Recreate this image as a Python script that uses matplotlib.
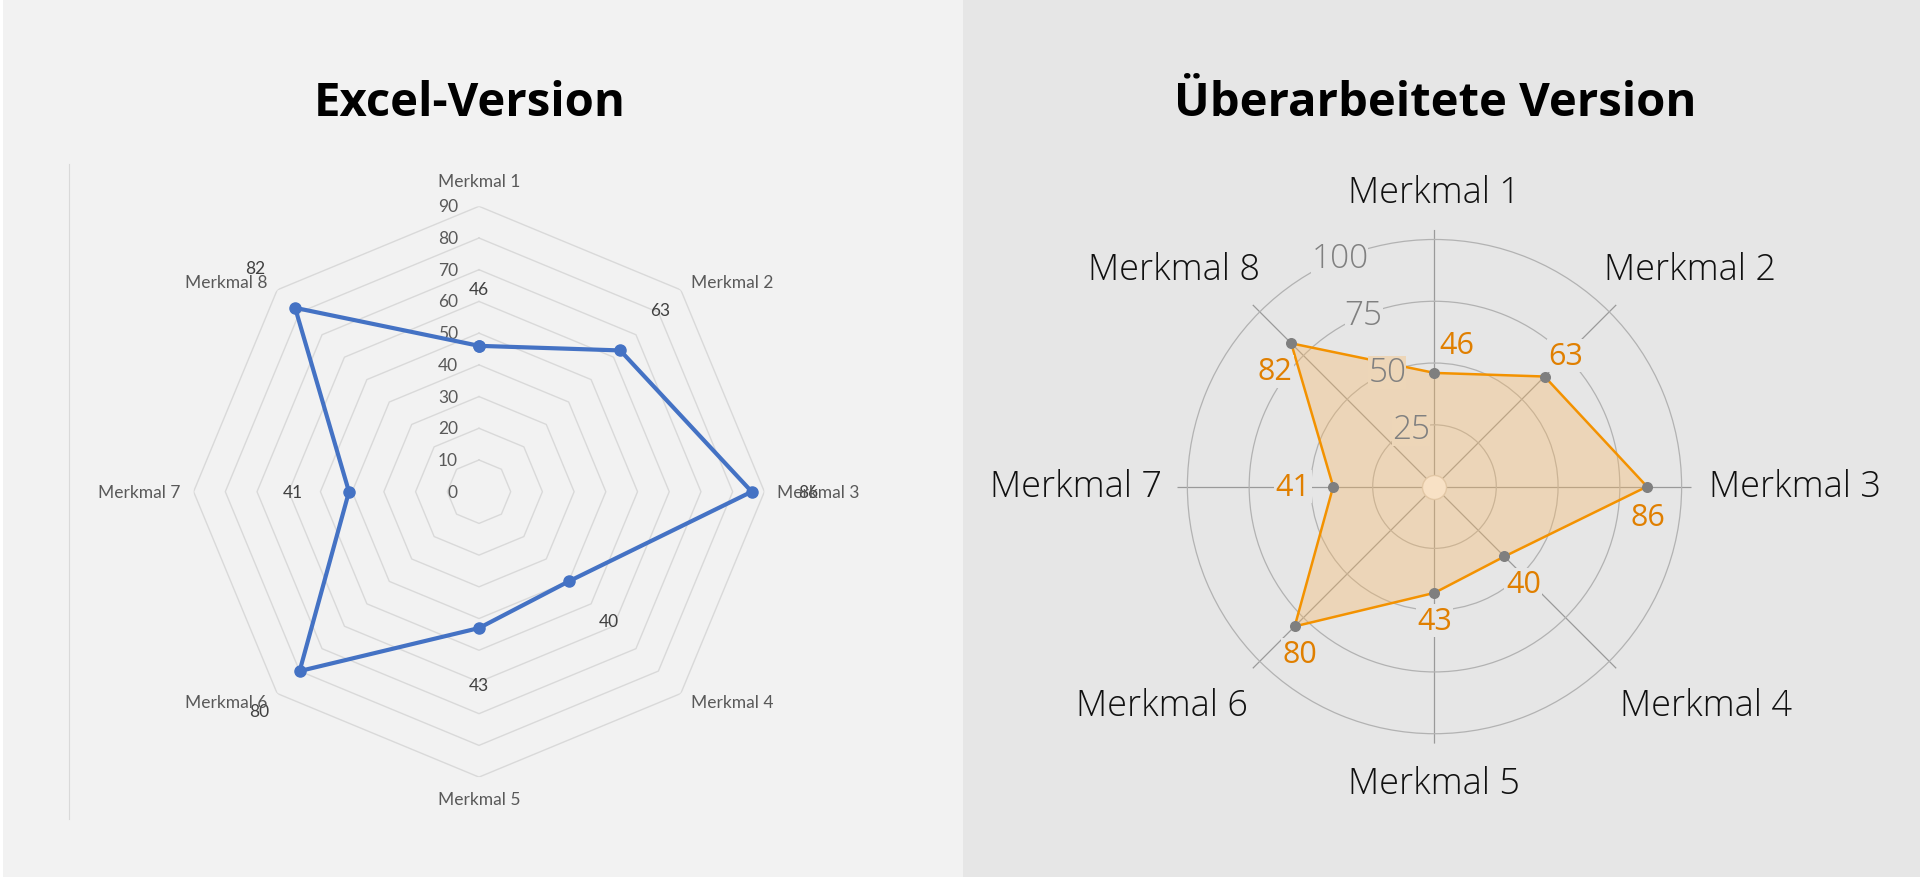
import matplotlib
matplotlib.use('Agg')
import matplotlib.pyplot as plt
from matplotlib.patches import Rectangle
from matplotlib.lines import Line2D
import numpy as np

# Daten
merkmale = ['Merkmal 1', 'Merkmal 2', 'Merkmal 3', 'Merkmal 4',
            'Merkmal 5', 'Merkmal 6', 'Merkmal 7', 'Merkmal 8']
werte = [46, 63, 86, 40, 43, 80, 41, 82]
excel_ticks = [0, 10, 20, 30, 40, 50, 60, 70, 80, 90]
neu_ticks = [25, 50, 75, 100]

PX = 0.72  # Pixel -> Punkte bei dpi=100

BG_LEFT = '#f2f2f2'
BG_RIGHT = '#e6e6e6'
BLUE = '#4472c4'
ORANGE = '#f39200'
ORANGE_TXT = '#e07f00'
FILL = '#fab863'
FILL_MIX = '#edd6b8'

fig = plt.figure(figsize=(19.2, 8.78), dpi=100, facecolor='white')
fig.patches.append(Rectangle((3 / 1920, 0), (963 - 3) / 1920, 1, transform=fig.transFigure,
                             facecolor=BG_LEFT, edgecolor='none', zorder=-10))
fig.patches.append(Rectangle((963 / 1920, 0), 1 - 963 / 1920, 1, transform=fig.transFigure,
                             facecolor=BG_RIGHT, edgecolor='none', zorder=-10))

fig.text(470 / 1920, 1 - 116 / 878, 'Excel-Version', ha='center', va='baseline',
         fontsize=34, fontweight='bold', family='Open Sans', color='black')
fig.text(1435 / 1920, 1 - 116 / 878, 'Überarbeitete Version', ha='center', va='baseline',
         fontsize=34, fontweight='bold', family='Open Sans', color='black')

n = len(merkmale)
theta = np.arange(n) * 2 * np.pi / n
theta_c = np.append(theta, theta[0])
werte_c = np.append(werte, werte[0])

# ---------------- Excel-Version ----------------
axL = fig.add_axes([0.10083, 0.11378, 0.29729, 0.65011], projection='polar')
axL.set_theta_zero_location('N')
axL.set_theta_direction(-1)
axL.set_ylim(0, 90)
axL.axis('off')

for t in excel_ticks[1:]:
    axL.plot(theta_c, [t] * (n + 1), color='#d9d9d9', lw=1.0, zorder=1)
# Achsenbeschriftung 0..90
for t in excel_ticks:
    axL.annotate(str(t), (0, t), xytext=(-21 * PX, 0), textcoords='offset points',
                 ha='right', va='center', fontsize=12.5, family='Lato', color='#595959')

axL.plot(theta_c, werte_c, color=BLUE, lw=3, marker='o', ms=8, zorder=3, clip_on=False)

for th, w in zip(theta, werte):
    axL.annotate(str(w), (th, w), xytext=(56.5 * PX * np.sin(th), 56.5 * PX * np.cos(th)),
                 textcoords='offset points', ha='center', va='center',
                 fontsize=12.5, family='Lato', color='#404040')

lab_left = [('center', 'baseline', 0, 20), ('left', 'bottom', 10, 0),
            ('left', 'center', 13, 0), ('left', 'top', 10, 0),
            ('center', 'top', 0, -14), ('right', 'top', -10, 0),
            ('right', 'center', -13, 0), ('right', 'bottom', -10, 0)]
for th, name, (ha, va, dx, dy) in zip(theta, merkmale, lab_left):
    axL.annotate(name, (th, 90), xytext=(dx * PX, dy * PX), textcoords='offset points',
                 ha=ha, va=va, fontsize=12.5, family='Lato', color='#595959')

fig.add_artist(Line2D([69 / 1920, 69 / 1920], [1 - 165 / 878, 1 - 820 / 878],
                      color='#d9d9d9', lw=0.8))

# ---------------- Überarbeitete Version ----------------
axR = fig.add_axes([0.61328, 0.15194, 0.26771, 0.58542], projection='polar')
axR.set_theta_zero_location('N')
axR.set_theta_direction(-1)
axR.set_ylim(0, 104)
axR.set_facecolor('none')
axR.spines['polar'].set_visible(False)
axR.set_xticks(theta)
axR.set_xticklabels([])
axR.set_yticks(neu_ticks)
axR.set_yticklabels([])
axR.xaxis.grid(True, color='#9a9a9a', lw=0.9)
axR.yaxis.grid(True, color='#b2b2b2', lw=0.9)
axR.tick_params(length=0)

axR.fill(theta_c, werte_c, color=FILL, alpha=0.35, lw=0, zorder=3)
axR.plot(theta_c, werte_c, color=ORANGE, lw=1.8, zorder=4)
axR.scatter(theta, werte, s=48, color='#7f7f7f', zorder=6, clip_on=False)
axR.scatter([0], [0], s=300, facecolor='#f8e1c5', edgecolor='#e2c7a5', lw=1, zorder=5)

rlab_th = np.deg2rad(-22.5)
for t in neu_ticks:
    bg = BG_RIGHT if t > 60 else FILL_MIX
    axR.text(rlab_th, t, str(t), ha='center', va='center', fontsize=24, family='Open Sans',
             fontweight='light', color='#808080', zorder=7,
             bbox=dict(boxstyle='square,pad=0.0', facecolor=bg, edgecolor='none'))

wert_off = [(22, 28), (21, 21), (1, -30), (19, -28), (0, -28), (5, -28), (-40, 0), (-16, -28)]
for th, w, (dx, dy) in zip(theta, werte, wert_off):
    axR.annotate(str(w), (th, w), xytext=(dx * PX, dy * PX), textcoords='offset points',
                 ha='center', va='center', fontsize=22, family='Open Sans', color=ORANGE_TXT,
                 zorder=8, bbox=dict(boxstyle='square,pad=0.05', facecolor=BG_RIGHT, edgecolor='none'))

lab_right = [('center', 'baseline', 0, 28), ('left', 'baseline', -12, 26),
             ('left', 'center', 18, 0), ('left', 'top', 4, -19),
             ('center', 'top', 0, -21), ('right', 'top', -5, -19),
             ('right', 'center', -15, 0), ('right', 'baseline', 7, 26)]
for th, name, (ha, va, dx, dy) in zip(theta, merkmale, lab_right):
    axR.annotate(name, (th, 104), xytext=(dx * PX, dy * PX), textcoords='offset points',
                 ha=ha, va=va, fontsize=26, family='Open Sans', fontweight='light',
                 color='#111111')

fig.savefig('out.png', dpi=100, facecolor=fig.get_facecolor())
